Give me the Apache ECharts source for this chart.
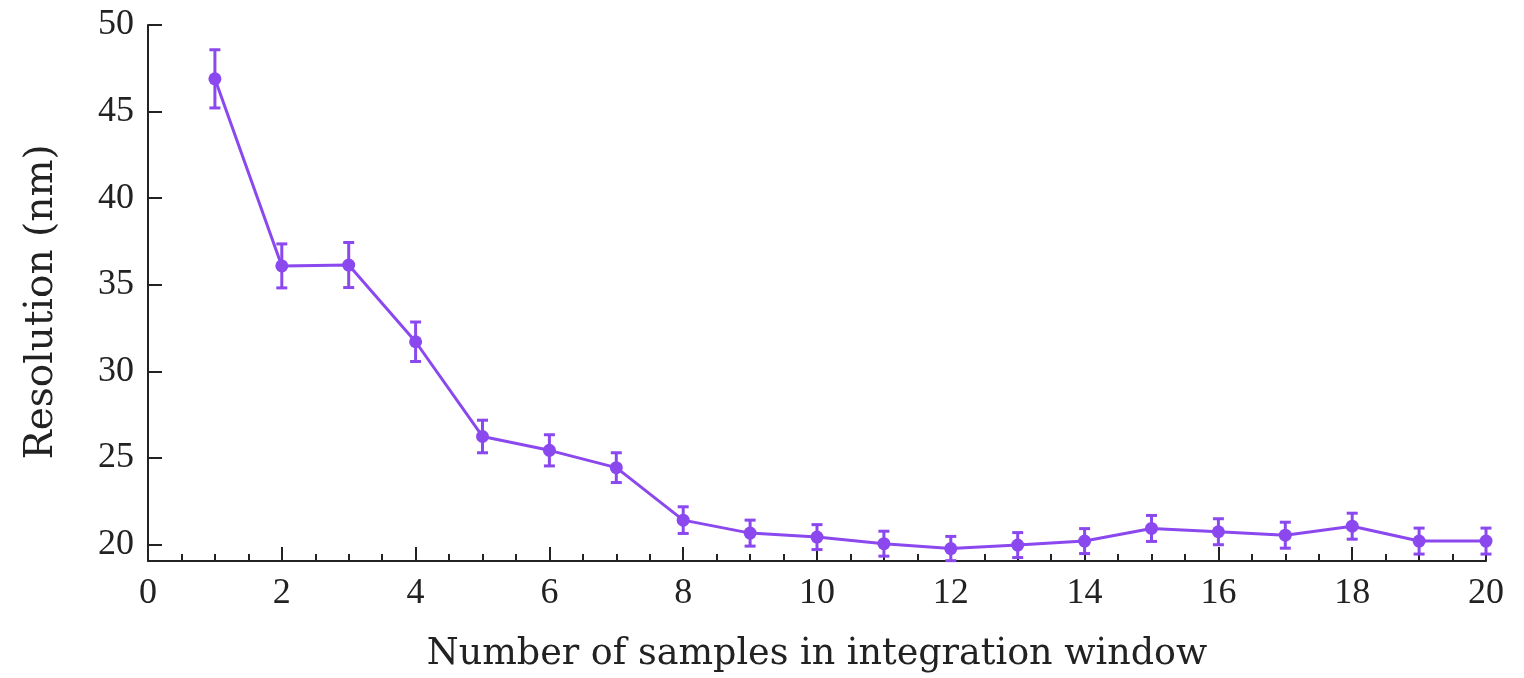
<!DOCTYPE html>
<html>
<head>
<meta charset="utf-8">
<script src="https://cdn.jsdelivr.net/npm/echarts@6/dist/echarts.min.js"></script>
<style>
html,body{margin:0;padding:0;background:#fff;}
#chart{width:1524px;height:678px;}
</style>
</head>
<body>
<div id="chart"></div>
<script>
const samples = [1,2,3,4,5,6,7,8,9,10,11,12,13,14,15,16,17,18,19,20];
const resolution = [46.89,36.09,36.14,31.71,26.24,25.44,24.44,21.41,20.66,20.43,20.05,19.77,19.97,20.20,20.93,20.74,20.54,21.06,20.20,20.20];
const resolutionErr = [1.68,1.27,1.30,1.14,0.94,0.90,0.86,0.77,0.75,0.72,0.72,0.70,0.72,0.72,0.75,0.75,0.75,0.75,0.75,0.75];
const yTicks = [20,25,30,35,40,45,50];
const xTitle = 'Number of samples in integration window';
const yTitle = 'Resolution (nm)';

const COLOR = '#8a48ee';
const AXIS = '#222222';
const TICKFONT = 'Liberation Serif';
const TITLEFONT = 'DejaVu Serif';

const chart = echarts.init(document.getElementById('chart'), null, {renderer:'canvas'});

const lineData = samples.map((x,i)=>[x, resolution[i]]);
const errData = samples.map((x,i)=>[x, resolution[i], resolutionErr[i]]);

chart.setOption({
  animation:false,
  backgroundColor:'#ffffff',
  grid:{left:148,right:38,top:25,bottom:116,containLabel:false},
  xAxis:{
    type:'value', min:0, max:20, interval:2,
    axisLine:{show:true,onZero:false,lineStyle:{color:AXIS,width:2}},
    axisTick:{show:true,inside:true,length:14,lineStyle:{color:AXIS,width:2}},
    minorTick:{show:true,splitNumber:4,length:7,lineStyle:{color:AXIS,width:2}},
    splitLine:{show:false},
    axisLabel:{color:AXIS,fontFamily:TICKFONT,fontSize:36,margin:15},
    name:xTitle, nameLocation:'middle', nameGap:75,
    nameTextStyle:{color:AXIS,fontFamily:TITLEFONT,fontSize:36.5}
  },
  yAxis:{
    type:'value', min:19.05, max:50,
    axisLine:{show:true,onZero:false,lineStyle:{color:AXIS,width:2}},
    axisTick:{show:true,inside:true,length:14,customValues:yTicks,lineStyle:{color:AXIS,width:2}},
    axisLabel:{color:AXIS,fontFamily:TICKFONT,fontSize:36,margin:14,customValues:yTicks},
    splitLine:{show:false},
    name:yTitle, nameLocation:'middle', nameGap:87, nameRotate:90,
    nameTextStyle:{color:AXIS,fontFamily:TITLEFONT,fontSize:39,padding:[0,18,0,0]}
  },
  series:[
    {
      type:'line', data:lineData, symbol:'circle', symbolSize:13,
      lineStyle:{color:COLOR,width:3}, itemStyle:{color:COLOR}, z:3
    },
    {
      type:'custom', data:errData, z:4,
      renderItem:function(params, api){
        const x = api.value(0), y = api.value(1), e = api.value(2);
        const top = api.coord([x, y+e]);
        const bot = api.coord([x, y-e]);
        const hw = 5.5;
        const st = {stroke:COLOR, lineWidth:3};
        return {type:'group', children:[
          {type:'line', shape:{x1:top[0],y1:top[1],x2:bot[0],y2:bot[1]}, style:st},
          {type:'line', shape:{x1:top[0]-hw,y1:top[1],x2:top[0]+hw,y2:top[1]}, style:st},
          {type:'line', shape:{x1:bot[0]-hw,y1:bot[1],x2:bot[0]+hw,y2:bot[1]}, style:st}
        ]};
      }
    }
  ]
});
</script>
</body>
</html>
